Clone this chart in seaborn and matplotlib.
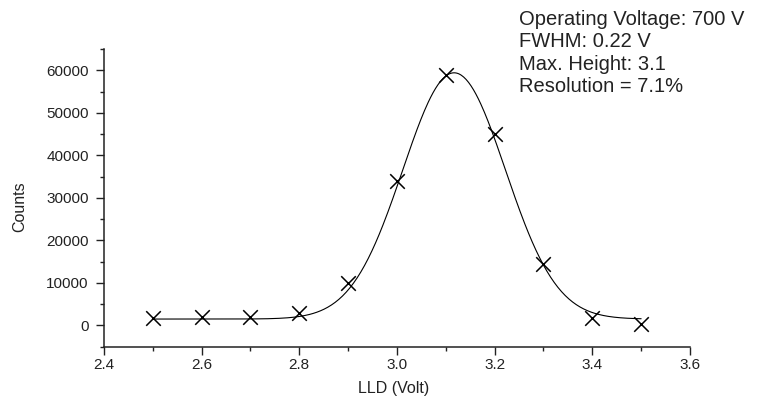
import numpy as np
import pandas as pd
import matplotlib
matplotlib.use("Agg")
import matplotlib.pyplot as plt
from matplotlib.ticker import MultipleLocator
import seaborn as sns

# Measured counts versus lower level discriminator setting
lld_volt = [2.5, 2.6, 2.7, 2.8, 2.9, 3.0, 3.1, 3.2, 3.3, 3.4, 3.5]
counts = [1650, 1880, 2020, 2960, 9950, 33950, 58800, 45000, 14350, 1790, 240]

# Gaussian fit parameters (baseline, amplitude, centre, sigma)
fit_baseline = 1500
fit_amplitude = 57900
fit_centre = 3.117
fit_sigma = 0.105

info_lines = [
    "Operating Voltage: 700 V",
    "FWHM: 0.22 V",
    "Max. Height: 3.1",
    "Resolution = 7.1%",
]

x_ticks = [2.4, 2.6, 2.8, 3.0, 3.2, 3.4, 3.6]
y_ticks = [0, 10000, 20000, 30000, 40000, 50000, 60000]

sns.set_style("ticks")
plt.rcParams["font.family"] = ["Liberation Sans", "DejaVu Sans"]

data = pd.DataFrame({"LLD": lld_volt, "Counts": counts})
x_fit = np.linspace(min(lld_volt), max(lld_volt), 400)
y_fit = fit_baseline + fit_amplitude * np.exp(-(x_fit - fit_centre) ** 2 / (2 * fit_sigma ** 2))
fit = pd.DataFrame({"LLD": x_fit, "Counts": y_fit})

fig = plt.figure(figsize=(7.77, 3.96), dpi=100)
ax = fig.add_axes([0.1338, 0.1245, 0.888 - 0.1338, 0.8763 - 0.1245])

sns.lineplot(data=fit, x="LLD", y="Counts", ax=ax, color="black", linewidth=0.8)
sns.scatterplot(data=data, x="LLD", y="Counts", ax=ax, marker="x", s=110,
                color="black", linewidth=1.1, zorder=3)

ax.set_xlim(2.4, 3.6)
ax.set_ylim(-5000, 65000)
ax.set_xticks(x_ticks)
ax.set_xticklabels([f"{v:.1f}" for v in x_ticks])
ax.set_yticks(y_ticks)
ax.set_yticklabels([str(v) for v in y_ticks])
ax.xaxis.set_minor_locator(MultipleLocator(0.1))
ax.yaxis.set_minor_locator(MultipleLocator(5000))

sns.despine(ax=ax)
for side in ("left", "bottom"):
    ax.spines[side].set_linewidth(1.1)
    ax.spines[side].set_color("#222222")

ax.tick_params(axis="both", which="major", direction="out", length=6, width=1.0,
               color="#222222", labelsize=11, labelcolor="#222222")
ax.tick_params(axis="both", which="minor", direction="out", length=3, width=1.0,
               color="#222222")
ax.tick_params(axis="y", which="major", pad=5)
ax.tick_params(axis="x", which="major", pad=2)

ax.set_xlabel("LLD (Volt)", fontsize=11.5, color="#222222")
ax.set_ylabel("Counts", fontsize=11.5, color="#222222")
ax.xaxis.set_label_coords(0.494, -0.115)
ax.yaxis.set_label_coords(-0.131, 0.47)

for i, line in enumerate(info_lines):
    fig.text(519 / 777, 1 - (19.5 + 22.4 * i) / 396, line, fontsize=14.5,
             color="#222222", ha="left", va="center")

fig.savefig("out.png", dpi=100)
